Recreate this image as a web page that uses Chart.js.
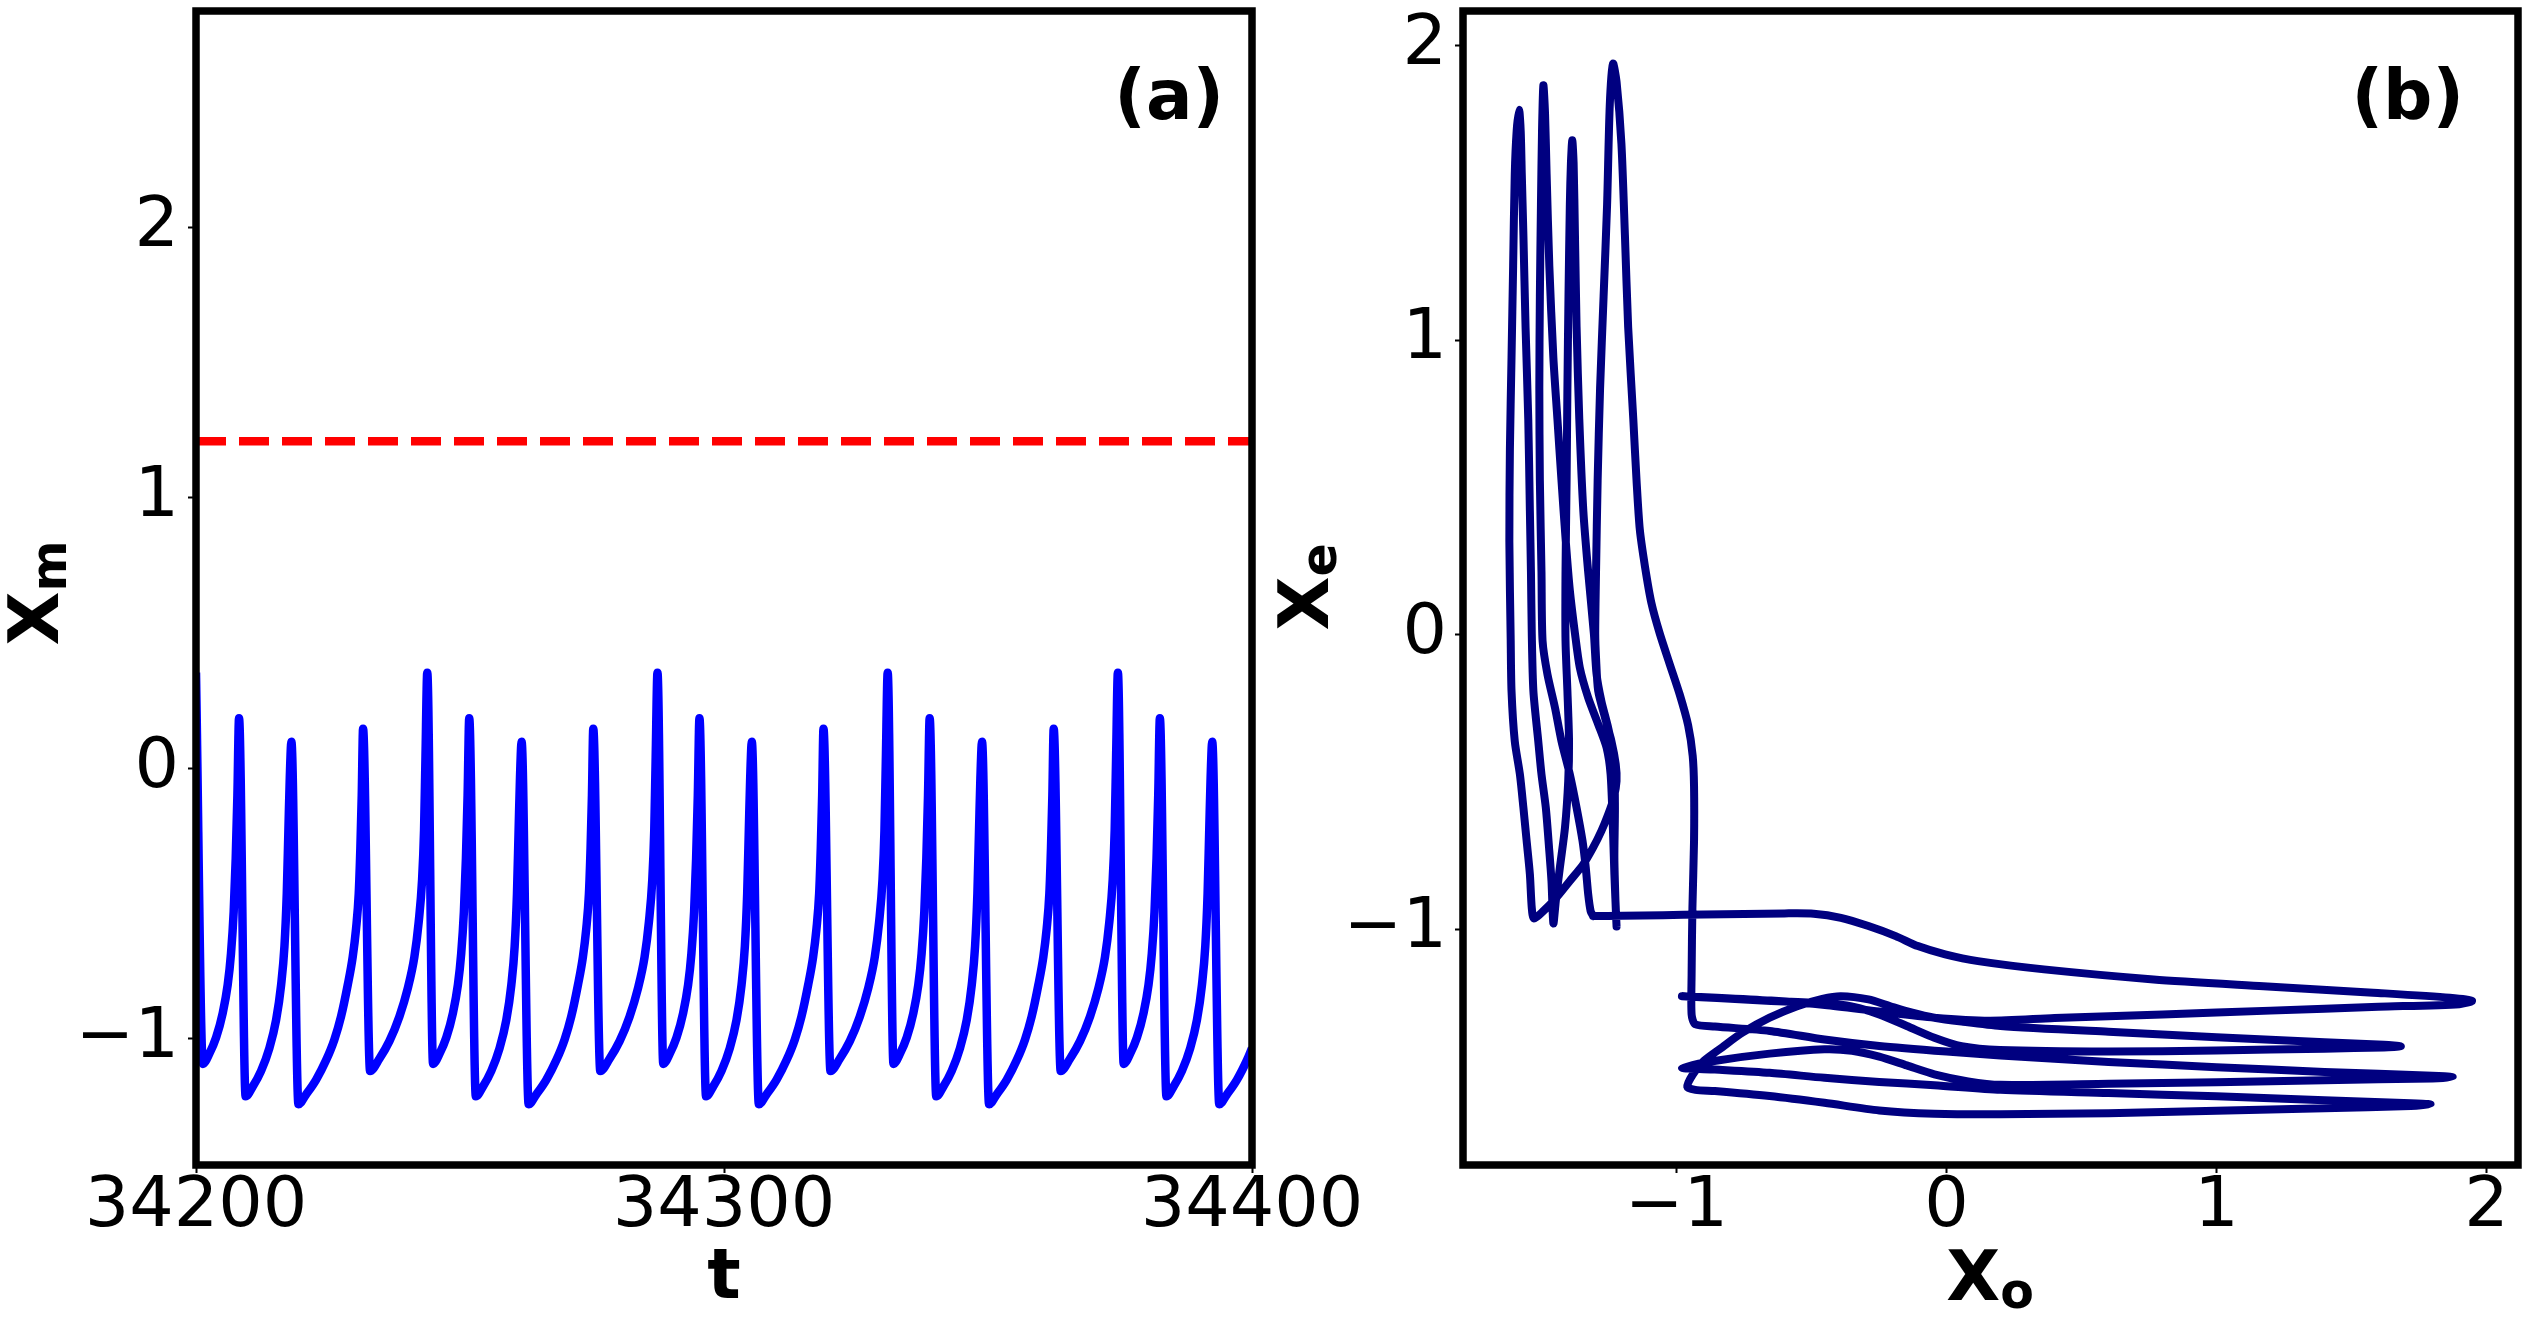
<!DOCTYPE html>
<html>
<head>
<meta charset="utf-8">
<script src="https://cdn.jsdelivr.net/npm/chart.js@4.4.1/dist/chart.umd.min.js"></script>
<style>
html,body{margin:0;padding:0;background:#fff;width:2529px;height:1324px;overflow:hidden;position:relative;}
.box{position:absolute;}
.lab{position:absolute;font-family:"DejaVu Sans";font-weight:bold;font-size:70px;line-height:70px;white-space:nowrap;color:#000;}
.sub{font-size:0.7em;position:relative;top:0.16em;}
.rot{position:absolute;width:0;height:0;transform:rotate(-90deg);transform-origin:0 0;}
.rot .lab{left:0;top:0;transform:translate(-50%,-50%);}
.panel{position:absolute;font-family:"DejaVu Sans";font-weight:bold;font-size:69px;line-height:69px;white-space:nowrap;color:#000;}
</style>
</head>
<body>
<div class="box" style="left:0;top:-40px;width:1400px;height:1364px"><canvas id="ca"></canvas></div>
<div class="box" style="left:1270px;top:-40px;width:1259px;height:1364px"><canvas id="cb"></canvas></div>

<div class="lab" style="left:724px;top:1239px;transform:translateX(-50%);">t</div>
<div class="lab" style="left:1990px;top:1241px;transform:translateX(-50%);">X<span class="sub">o</span></div>
<div class="rot" style="left:38px;top:593px;"><div class="lab">X<span class="sub">m</span></div></div>
<div class="rot" style="left:1308px;top:587px;"><div class="lab">X<span class="sub">e</span></div></div>
<div class="panel" style="right:1305px;top:61px;">(a)</div>
<div class="panel" style="right:65px;top:61px;">(b)</div>

<script>
// ---------- Panel (a): time series X_m(t) ----------
const xTicksA = [34200, 34300, 34400];
const yTicksA = [-1, 0, 1, 2];
const thresholdValue = 1.21;

const tData = [
34200.00,34201.30,34202.53,34203.80,34205.06,34206.00,34206.63,34207.14,34207.52,34207.84,34208.15,
34209.40,34210.75,34212.33,34213.90,34215.17,34216.12,34216.75,34217.19,34217.50,34217.76,34218.07,
34219.40,34220.85,34222.74,34224.63,34226.21,34227.47,34228.74,34229.68,34230.31,34230.82,34231.13,34231.39,34231.64,
34232.97,34234.73,34236.63,34238.52,34240.10,34241.36,34242.18,34242.82,34243.19,34243.45,
34243.80,34244.90,34246.13,34247.40,34248.66,34249.60,34250.23,34250.74,34251.12,34251.44,34251.75,
34253.00,34254.35,34255.93,34257.50,34258.77,34259.72,34260.35,34260.79,34261.10,34261.36,34261.67,
34263.00,34264.45,34266.34,34268.23,34269.81,34271.07,34272.34,34273.28,34273.91,34274.42,34274.73,34274.99,34275.24,
34276.57,34278.33,34280.23,34282.12,34283.70,34284.96,34285.78,34286.42,34286.79,34287.05,
34287.40,34288.50,34289.73,34291.00,34292.26,34293.20,34293.83,34294.34,34294.72,34295.04,34295.35,
34296.60,34297.95,34299.53,34301.10,34302.37,34303.32,34303.95,34304.39,34304.70,34304.96,34305.27,
34306.60,34308.05,34309.94,34311.83,34313.41,34314.67,34315.94,34316.88,34317.51,34318.02,34318.33,34318.59,34318.84,
34320.17,34321.93,34323.83,34325.72,34327.30,34328.56,34329.38,34330.02,34330.39,34330.65,
34331.00,34332.10,34333.33,34334.60,34335.86,34336.80,34337.43,34337.94,34338.32,34338.64,34338.95,
34340.20,34341.55,34343.13,34344.70,34345.97,34346.92,34347.55,34347.99,34348.30,34348.56,34348.87,
34350.20,34351.65,34353.54,34355.43,34357.01,34358.27,34359.54,34360.48,34361.11,34361.62,34361.93,34362.19,34362.44,
34363.77,34365.53,34367.43,34369.32,34370.90,34372.16,34372.98,34373.62,34373.99,34374.25,
34374.60,34375.70,34376.93,34378.20,34379.46,34380.40,34381.03,34381.54,34381.92,34382.24,34382.55,
34383.80,34385.15,34386.73,34388.30,34389.57,34390.52,34391.15,34391.59,34391.90,34392.16,34392.47,
34393.80,34395.25,34397.14,34399.03,34400.00
];

const xmData = [
0.354,-1.093,-1.055,-0.996,-0.905,-0.801,-0.684,-0.529,-0.334,-0.100,0.185,
-1.213,-1.177,-1.119,-1.035,-0.931,-0.801,-0.659,-0.464,-0.230,-0.036,0.098,
-1.242,-1.206,-1.152,-1.080,-1.003,-0.918,-0.801,-0.697,-0.594,-0.464,-0.295,-0.100,0.146,
-1.119,-1.074,-1.009,-0.918,-0.814,-0.697,-0.568,-0.412,-0.230,0.029,
0.354,-1.093,-1.055,-0.996,-0.905,-0.801,-0.684,-0.529,-0.334,-0.100,0.185,
-1.213,-1.177,-1.119,-1.035,-0.931,-0.801,-0.659,-0.464,-0.230,-0.036,0.098,
-1.242,-1.206,-1.152,-1.080,-1.003,-0.918,-0.801,-0.697,-0.594,-0.464,-0.295,-0.100,0.146,
-1.119,-1.074,-1.009,-0.918,-0.814,-0.697,-0.568,-0.412,-0.230,0.029,
0.354,-1.093,-1.055,-0.996,-0.905,-0.801,-0.684,-0.529,-0.334,-0.100,0.185,
-1.213,-1.177,-1.119,-1.035,-0.931,-0.801,-0.659,-0.464,-0.230,-0.036,0.098,
-1.242,-1.206,-1.152,-1.080,-1.003,-0.918,-0.801,-0.697,-0.594,-0.464,-0.295,-0.100,0.146,
-1.119,-1.074,-1.009,-0.918,-0.814,-0.697,-0.568,-0.412,-0.230,0.029,
0.354,-1.093,-1.055,-0.996,-0.905,-0.801,-0.684,-0.529,-0.334,-0.100,0.185,
-1.213,-1.177,-1.119,-1.035,-0.931,-0.801,-0.659,-0.464,-0.230,-0.036,0.098,
-1.242,-1.206,-1.152,-1.080,-1.003,-0.918,-0.801,-0.697,-0.594,-0.464,-0.295,-0.100,0.146,
-1.119,-1.074,-1.009,-0.918,-0.814,-0.697,-0.568,-0.412,-0.230,0.029,
0.354,-1.093,-1.055,-0.996,-0.905,-0.801,-0.684,-0.529,-0.334,-0.100,0.185,
-1.213,-1.177,-1.119,-1.035,-0.931,-0.801,-0.659,-0.464,-0.230,-0.036,0.098,
-1.242,-1.206,-1.152,-1.080,-1.035
];

// ---------- Panel (b): phase portrait X_o vs X_e ----------
const xTicksB = [-1, 0, 1, 2];
const yTicksB = [-1, 0, 1, 2];

const xoData = [
-1.309,-1.20,-1.05,-0.90,-0.75,-0.60,-0.492,-0.391,-0.289,-0.188,-0.106,-0.005,0.117,0.361,0.767,1.174,1.580,1.864,1.946,
1.90,1.60,1.20,0.80,0.40,0.16,-0.045,-0.25,-0.45,-0.65,-0.85,-0.98,
-0.85,-0.65,-0.452,-0.391,-0.32,-0.249,-0.147,-0.045,0.056,0.198,0.6,1.0,1.4,1.62,1.683,
1.62,1.4,1.0,0.6,0.2,0.056,-0.045,-0.127,-0.208,-0.289,-0.391,-0.46,-0.553,-0.655,-0.756,-0.83,-0.899,-0.939,-0.960,
-0.93,-0.858,-0.655,-0.452,-0.249,-0.045,0.2,0.6,1.0,1.4,1.72,1.793,
1.72,1.4,1.0,0.6,0.2,-0.045,-0.249,-0.452,-0.655,-0.858,-0.98,
-0.86,-0.655,-0.452,-0.35,-0.249,-0.147,-0.045,0.08,0.2,0.6,1.0,1.4,1.8,1.875,
1.8,1.4,1.0,0.6,0.2,0.0,-0.249,-0.452,-0.655,-0.858,-0.931,
-0.944,-0.944,-0.941,-0.935,-0.935,-0.940,-0.957,-0.988,-1.025,-1.062,-1.093,-1.117,-1.136,-1.148,-1.160,-1.179,-1.191,-1.204,-1.222,-1.235,
-1.247,-1.257,-1.270,-1.283,-1.292,-1.298,-1.301,-1.298,-1.290,-1.265,-1.241,-1.225,-1.222,-1.232,-1.253,-1.278,-1.309,-1.345,-1.395,-1.450,-1.493,-1.528,
-1.536,-1.543,-1.555,-1.567,-1.580,-1.599,-1.611,-1.614,-1.619,-1.617,-1.611,-1.605,-1.599,-1.592,-1.583,
-1.577,-1.573,-1.567,-1.559,-1.549,-1.543,-1.539,-1.536,-1.530,-1.512,-1.500,-1.484,-1.472,-1.463,-1.456,
-1.447,-1.432,-1.413,-1.401,-1.398,-1.404,-1.411,-1.411,-1.407,-1.404,-1.400,-1.395,-1.391,-1.386,
-1.381,-1.376,-1.370,-1.360,-1.345,-1.327,-1.306,-1.296,-1.278,-1.253,-1.232,-1.228,-1.230,-1.226,-1.222,
-1.230,-1.236,-1.244,-1.259,-1.290,-1.327,-1.358,-1.376,-1.395,-1.410,-1.426,-1.441,-1.456,-1.471,-1.481,-1.487,-1.493,
-1.498,-1.502,-1.506,-1.508,-1.506,-1.500,-1.496,-1.478,-1.450,-1.426,-1.395,-1.370,-1.348,-1.336,-1.327,-1.318,-1.309
];

const xeData = [
-0.955,-0.954,-0.952,-0.950,-0.948,-0.946,-0.947,-0.961,-0.989,-1.023,-1.057,-1.085,-1.108,-1.136,-1.170,-1.193,-1.215,-1.232,-1.243,
-1.254,-1.263,-1.276,-1.289,-1.301,-1.310,-1.300,-1.279,-1.257,-1.242,-1.232,-1.227,
-1.233,-1.243,-1.251,-1.256,-1.268,-1.289,-1.328,-1.368,-1.397,-1.410,-1.415,-1.411,-1.405,-1.401,-1.397,
-1.392,-1.383,-1.366,-1.348,-1.328,-1.313,-1.300,-1.283,-1.261,-1.238,-1.227,-1.236,-1.261,-1.300,-1.351,-1.400,-1.447,-1.492,-1.535,
-1.545,-1.549,-1.566,-1.589,-1.615,-1.626,-1.628,-1.624,-1.616,-1.607,-1.600,-1.594,
-1.590,-1.580,-1.567,-1.556,-1.545,-1.529,-1.518,-1.504,-1.487,-1.476,-1.470,
-1.447,-1.422,-1.407,-1.412,-1.432,-1.462,-1.492,-1.516,-1.528,-1.524,-1.519,-1.512,-1.506,-1.501,
-1.497,-1.484,-1.468,-1.450,-1.428,-1.415,-1.396,-1.374,-1.345,-1.330,-1.322,
-1.289,-1.153,-0.927,-0.700,-0.515,-0.411,-0.307,-0.203,-0.100,0.004,0.108,0.233,0.358,0.524,0.732,1.044,1.356,1.667,1.877,1.938,
1.80,1.46,1.148,0.836,0.524,0.212,0.004,-0.078,-0.191,-0.281,-0.361,-0.440,-0.497,-0.553,-0.610,-0.666,-0.723,-0.779,-0.836,-0.898,-0.938,-0.963,
-0.927,-0.813,-0.700,-0.587,-0.474,-0.361,-0.191,-0.021,0.316,0.628,0.94,1.252,1.563,1.71,1.782,
1.71,1.563,1.356,1.044,0.732,0.42,0.212,0.004,-0.191,-0.361,-0.474,-0.587,-0.723,-0.836,-0.980,
-0.904,-0.791,-0.655,-0.497,-0.361,-0.191,-0.021,0.212,0.524,0.836,1.148,1.46,1.60,1.678,
1.60,1.356,1.044,0.732,0.42,0.212,0.004,-0.134,-0.226,-0.316,-0.418,-0.587,-0.757,-0.904,-0.990,
-0.813,-0.644,-0.474,-0.383,-0.304,-0.214,-0.112,0.004,0.15,0.316,0.524,0.732,0.94,1.252,1.563,1.773,1.865,
1.71,1.46,1.148,0.836,0.524,0.212,-0.021,-0.134,-0.248,-0.361,-0.474,-0.587,-0.700,-0.791,-0.881,-0.938,-0.955
];

// ---------- helpers ----------
const fmt = v => (v < 0 ? '\u2212' + Math.abs(v) : String(v));
const TICK_FONT = {family: 'DejaVu Sans', size: 70, lineHeight: 1};

const framePlugin = {
  id: 'frame',
  afterDraw(chart) {
    const {ctx, chartArea: a} = chart;
    ctx.save();
    ctx.strokeStyle = '#000';
    ctx.lineWidth = 7.5;
    ctx.strokeRect(a.left, a.top, a.right - a.left, a.bottom - a.top);
    ctx.restore();
  }
};

function axis(min, max, ticks, fitFn, pad) {
  return {
    type: 'linear', min: min, max: max,
    afterBuildTicks: s => { s.ticks = ticks.map(v => ({value: v})); },
    afterFit: fitFn,
    grid: {drawOnChartArea: false, drawTicks: true, tickLength: 8, tickWidth: 2, tickColor: '#000'},
    border: {display: false},
    ticks: {font: TICK_FONT, color: '#000', padding: pad, maxRotation: 0, autoSkip: false, callback: v => fmt(v)}
  };
}

const seriesA = tData.map((t, i) => ({x: t, y: xmData[i]}));
const thresholdLine = [{x: xTicksA[0], y: thresholdValue}, {x: xTicksA[xTicksA.length - 1], y: thresholdValue}];
const seriesB = xoData.map((v, i) => ({x: v, y: xeData[i]}));

new Chart(document.getElementById('ca'), {
  type: 'scatter',
  data: {
    datasets: [
      {data: thresholdLine, showLine: true, pointRadius: 0, borderColor: '#ff0000', borderWidth: 8.5, borderDash: [30, 13], tension: 0},
      {data: seriesA, showLine: true, pointRadius: 0, borderColor: '#0000ff', borderWidth: 8.5,
       cubicInterpolationMode: 'monotone', borderJoinStyle: 'round'}
    ]
  },
  options: {
    responsive: true, maintainAspectRatio: false, animation: false, devicePixelRatio: 1, events: [],
    layout: {padding: {top: 51, right: 148, bottom: 0, left: 0}},
    plugins: {legend: {display: false}, tooltip: {enabled: false}},
    scales: {
      x: axis(34200, 34400, xTicksA, s => { s.height = 159; }, 0),
      y: axis(-1.467, 2.801, yTicksA, s => { s.width = 196; }, 9)
    }
  },
  plugins: [framePlugin]
});

new Chart(document.getElementById('cb'), {
  type: 'scatter',
  data: {
    datasets: [
      {data: seriesB, showLine: true, pointRadius: 0, borderColor: '#000080', borderWidth: 8,
       tension: 0.25, borderJoinStyle: 'round', borderCapStyle: 'round'}
    ]
  },
  options: {
    responsive: true, maintainAspectRatio: false, animation: false, devicePixelRatio: 1, events: [],
    layout: {padding: {top: 51, right: 11, bottom: 0, left: 0}},
    plugins: {legend: {display: false}, tooltip: {enabled: false}},
    scales: {
      x: axis(-1.7907, 2.1167, xTicksB, s => { s.height = 159; }, 0),
      y: axis(-1.800, 2.117, yTicksB, s => { s.width = 193; }, 8)
    }
  },
  plugins: [framePlugin]
});
</script>
</body>
</html>
